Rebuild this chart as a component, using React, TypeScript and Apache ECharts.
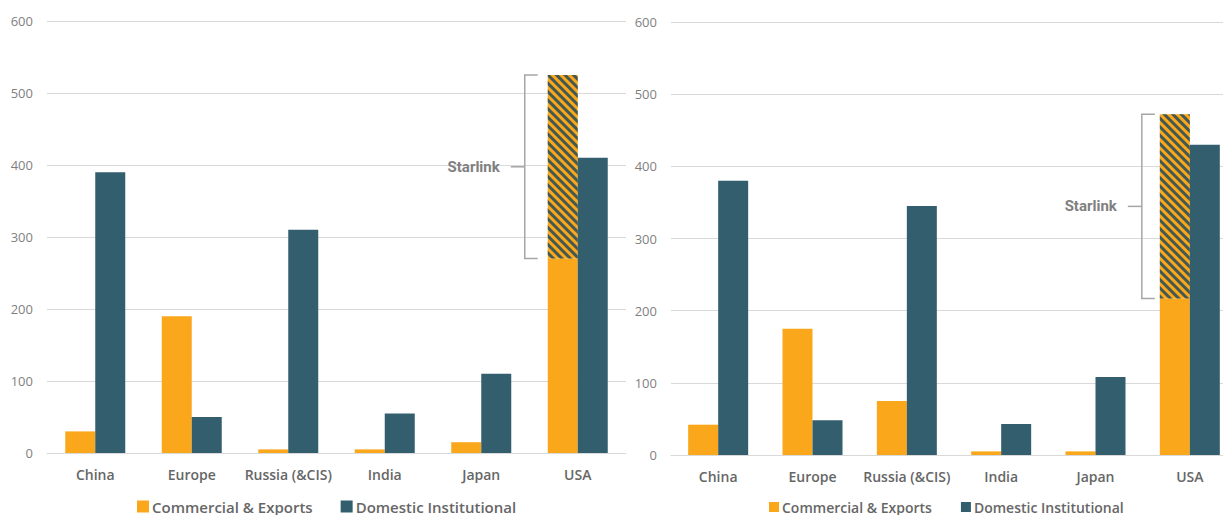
import React, { useEffect, useRef } from "react";
import * as echarts from "echarts";

const categories = ["China", "Europe", "Russia (&CIS)", "India", "Japan", "USA"];
const yTicks = { min: 0, max: 600, interval: 100 };

// Left chart
const leftCommercial = [30, 190, 5, 5, 15, 270];
const leftStarlink = [null, null, null, null, null, 255];
const leftDomestic = [390, 50, 310, 55, 110, 410];

// Right chart
const rightCommercial = [42, 175, 75, 5, 5, 217];
const rightStarlink = [null, null, null, null, null, 255];
const rightDomestic = [380, 48, 345, 43, 108, 430];

const ORANGE = "#FAA71B";
const BLUE = "#335E6E";
const GRID_GRAY = "#D9D9D9";
const TEXT_GRAY = "#666666";
const BAR_W = 30;
const CANVAS_W = 1237;

function bracketSeries(idx: number, commercial: number[], starlink: (number | null)[], off: { v: number; a: number }) {
  const usa = categories.length - 1;
  const base = commercial[usa];
  const top = base + (starlink[usa] as number);
  return {
    type: "custom",
    xAxisIndex: idx,
    yAxisIndex: idx,
    silent: true,
    z: 5,
    encode: { x: 0, y: [1, 2] },
    data: [[usa, base, top]],
    renderItem: (params: any, api: any) => {
      const x = api.value(0);
      const lo = api.value(1);
      const hi = api.value(2);
      const pTop = api.coord([x, hi]);
      const pBot = api.coord([x, lo]);
      const barLeft = pTop[0] - BAR_W;
      const vx = barLeft - off.v;
      const ax = barLeft - off.a;
      const midY = (pTop[1] + pBot[1]) / 2;
      const stroke = "#A6A6A6";
      return {
        type: "group",
        children: [
          {
            type: "polyline",
            shape: { points: [[ax, pTop[1]], [vx, pTop[1]], [vx, pBot[1]], [ax, pBot[1]]] },
            style: { stroke, lineWidth: 1.5, fill: null },
          },
          {
            type: "line",
            shape: { x1: vx - 14, y1: midY, x2: vx, y2: midY },
            style: { stroke, lineWidth: 1.5 },
          },
          {
            type: "text",
            style: {
              text: "Starlink",
              x: vx - 25,
              y: midY,
              align: "right",
              verticalAlign: "middle",
              fontFamily: "Roboto",
              fontWeight: "bold",
              fontSize: 15,
              fill: "#808080",
            },
          },
        ],
      };
    },
  };
}

function barSeries(idx: number, commercial: number[], starlink: (number | null)[], domestic: number[]) {
  return [
    {
      name: "Commercial & Exports",
      type: "bar",
      xAxisIndex: idx,
      yAxisIndex: idx,
      stack: "c" + idx,
      barWidth: BAR_W,
      barGap: "0%",
      itemStyle: { color: ORANGE },
      data: commercial,
    },
    {
      name: "Starlink",
      type: "bar",
      xAxisIndex: idx,
      yAxisIndex: idx,
      stack: "c" + idx,
      barWidth: BAR_W,
      barGap: "0%",
      itemStyle: {
        color: ORANGE,
        decal: {
          symbol: "rect",
          symbolSize: 1,
          color: "rgba(45,80,85,0.9)",
          dashArrayX: [1, 0],
          dashArrayY: [3, 3],
          rotation: Math.PI / 4,
        },
      },
      data: starlink,
    },
    {
      name: "Domestic Institutional",
      type: "bar",
      xAxisIndex: idx,
      yAxisIndex: idx,
      barWidth: BAR_W,
      barGap: "0%",
      itemStyle: { color: BLUE },
      data: domestic,
    },
  ];
}

export default function App() {
  const ref = useRef<HTMLDivElement>(null);
  useEffect(() => {
    document.body.style.margin = "0";
    if (!ref.current) return;
    const chart = echarts.init(ref.current, undefined, { renderer: "svg" });
    const xAxisBase = {
      type: "category",
      data: categories,
      axisLine: { show: true, lineStyle: { color: GRID_GRAY, width: 1 } },
      axisTick: { show: false },
      axisLabel: {
        color: TEXT_GRAY,
        fontFamily: "Open Sans",
        fontWeight: 600,
        fontSize: 14,
        margin: 14,
        interval: 0,
      },
    };
    const yAxisBase = {
      type: "value",
      min: yTicks.min,
      max: yTicks.max,
      interval: yTicks.interval,
      axisLine: { show: false },
      axisTick: { show: false },
      splitLine: { lineStyle: { color: GRID_GRAY, width: 1 } },
      axisLabel: { color: "#7F7F7F", fontFamily: "Open Sans", fontSize: 13, margin: 14 },
    };
    const legendData = ["Commercial & Exports", "Domestic Institutional"];
    const legendCommon = {
      icon: "rect",
      data: legendData,
      selectedMode: false,
      padding: 0,
    };
    chart.setOption({
      animation: false,
      grid: [
        { left: 47, right: CANVAS_W - 626, top: 21, bottom: 62 },
        { left: 671, right: 0, top: 22, bottom: 60 },
      ],
      xAxis: [
        { ...xAxisBase, gridIndex: 0 },
        { ...xAxisBase, gridIndex: 1 },
      ],
      yAxis: [
        { ...yAxisBase, gridIndex: 0 },
        { ...yAxisBase, gridIndex: 1 },
      ],
      legend: [
        {
          ...legendCommon,
          left: 137,
          top: 499,
          itemWidth: 12,
          itemHeight: 12,
          itemGap: 28,
          textStyle: { color: TEXT_GRAY, fontFamily: "Open Sans", fontWeight: 600, fontSize: 15, padding: [0, 0, 0, -2] },
        },
        {
          ...legendCommon,
          left: 769,
          top: 500,
          itemWidth: 10,
          itemHeight: 10,
          itemGap: 29,
          textStyle: { color: TEXT_GRAY, fontFamily: "Open Sans", fontWeight: 600, fontSize: 14, padding: [0, 0, 0, -2] },
        },
      ],
      series: [
        ...barSeries(0, leftCommercial, leftStarlink, leftDomestic),
        bracketSeries(0, leftCommercial, leftStarlink, { v: 23, a: 10 }),
        ...barSeries(1, rightCommercial, rightStarlink, rightDomestic),
        bracketSeries(1, rightCommercial, rightStarlink, { v: 18, a: 5 }),
      ],
    });
    return () => chart.dispose();
  }, []);
  return (
    <div style={{ width: 1223, height: 515, overflow: "hidden" }}>
      <div ref={ref} style={{ width: CANVAS_W, height: 515 }} />
    </div>
  );
}
